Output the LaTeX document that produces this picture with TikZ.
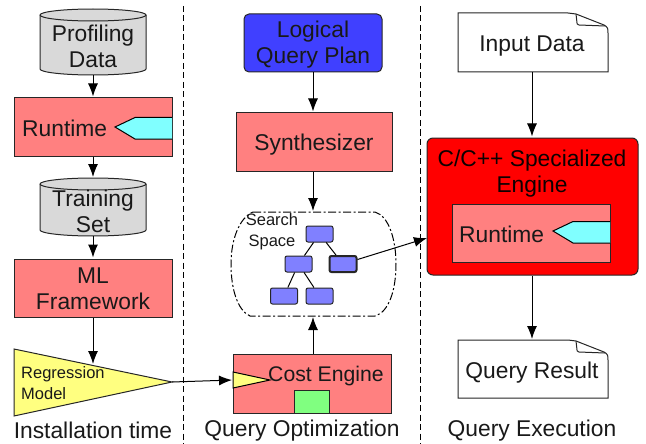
\documentclass[tikz,border=0pt]{standalone}
\usepackage{fontspec}
\setmainfont{Liberation Sans}
\usetikzlibrary{arrows.meta,positioning}
\definecolor{salmon}{HTML}{FF8080}
\definecolor{cylgray}{HTML}{D9D9D9}
\definecolor{cyanf}{HTML}{80FFFF}
\definecolor{bluef}{HTML}{4040FF}
\definecolor{treef}{HTML}{8080FF}
\definecolor{yel}{HTML}{FFFF80}
\definecolor{grn}{HTML}{80FF80}
\tikzset{
  x=1pt,y=-1pt,
  lbl/.style={font=\fontsize{22.8}{26}\selectfont,align=center,inner sep=0pt,text=black!90},
  boxn/.style={draw=black!85,line width=1pt,minimum width=#1,inner sep=0pt},
  flow/.style={draw=black,line width=1pt,-{Latex[length=13pt,width=10pt]},shorten >=1pt},
  tree/.style={draw=black!85,fill=treef,rounded corners=2pt,line width=1pt,minimum width=27pt,minimum height=16pt,inner sep=0pt},
  treeline/.style={draw=black,line width=1pt},
  sep/.style={draw=black,line width=1pt,dash pattern=on 6pt off 3.5pt},
}
\newcommand{\cyl}[4]{% x1,x2,y1,y2
  \fill[cylgray] (#1,#3+6) arc[x radius={(#2-#1)/2},y radius=6,start angle=180,end angle=360] -- (#2,#4-6) arc[x radius={(#2-#1)/2},y radius=6,start angle=0,end angle=180] -- cycle;
  \draw[black!85,line width=1pt] (#1,#3+6) arc[x radius={(#2-#1)/2},y radius=6,start angle=180,end angle=-180];
  \draw[black!85,line width=1pt] (#1,#3+6) -- (#1,#4-6) arc[x radius={(#2-#1)/2},y radius=6,start angle=180,end angle=0] -- (#2,#3+6);
}
\newcommand{\docu}[4]{% x1,x2,y1,y2
  \draw[black!85,fill=white,line width=1pt] (#1,#3) -- (#2-40,#3) .. controls (#2-36,#3) .. (#2-32,#3+1) -- (#2-4,#3+12) .. controls (#2,#3+14) and (#2,#3+16) .. (#2,#3+20) -- (#2,#4) -- (#1,#4) -- cycle;
  \draw[black!85,line width=1pt] (#2-32,#3+1) -- (#2-31,#3+10) .. controls (#2-31,#3+11) .. (#2-29,#3+12) -- (#2-3,#3+13);
}
\newcommand{\tagshape}[3]{% tipx, midy, rightx
  \draw[black,fill=cyanf,line width=1pt] (#3,#2-9.5) -- (#1+20,#2-9.5) -- (#1,#2) -- (#1+20,#2+12) -- (#3,#2+12);
}
\begin{document}
\begin{tikzpicture}
\useasboundingbox (0,0) rectangle (646,444);
% separators
\coordinate (s1a) at (183,6); \coordinate (s1b) at (183,444);
\coordinate (s2a) at (420,6); \coordinate (s2b) at (420,444);
\draw[sep] (s1a) -- (s1b);
\draw[sep] (s2a) -- (s2b);
% left column
\cyl{40}{146}{9}{75}
\node[lbl] (pd) at (93,46) {Profiling\\Data};
\node[boxn=158pt,fill=salmon,minimum height=58pt] (rt) at (93,127) {};
\tagshape{115}{127}{172}
\node[lbl,anchor=west] (rtl) at (22,128) {Runtime};
\cyl{40}{146}{178}{236}
\node[lbl] (ts) at (93,211) {Training\\Set};
\node[boxn=158pt,fill=salmon,minimum height=58pt] (ml) at (93,288) {};
\node[lbl] (mll) at (93,289) {ML\\Framework};
\draw[black!85,fill=yel,line width=1pt] (14,349) -- (172,382) -- (14,416) -- cycle;
\coordinate (rmtop) at (93,365);
\coordinate (rmtip) at (172,382);
\node[font=\fontsize{16.5}{21}\selectfont,align=left,inner sep=0pt,anchor=west,text=black!90] (rml) at (21,383) {Regression\\Model};
\node[lbl] (it) at (93,430) {Installation time};
\coordinate (pdb) at (93,75); \coordinate (tst) at (93,178); \coordinate (tsb) at (93,236);
\draw[flow] (pdb) -- (rt.north);
\draw[flow] (rt.south) -- (tst);
\draw[flow] (tsb) -- (ml.north);
\draw[flow] (ml.south) -- (rmtop);
% middle column
\node[draw=black!85,fill=bluef,rounded corners=5pt,line width=1pt,minimum width=138pt,minimum height=58pt,inner sep=0pt] (lqp) at (313,43) {};
\node[lbl] (lqpl) at (313,45) {Logical\\Query Plan};
\node[boxn=156pt,fill=salmon,minimum height=58pt] (syn) at (314,142) {};
\node[lbl] (synl) at (314,145) {Synthesizer};
\coordinate (sst) at (313,212); \coordinate (ssb) at (313,316);
\draw[black,line width=1pt,dash pattern=on 8pt off 2.5pt on 2pt off 2.5pt] (253,212) -- (375,212) .. controls (389,216) and (396,240) .. (396,264) .. controls (396,290) and (389,312) .. (375,316) -- (250,316) .. controls (237,310) and (231,288) .. (231,264) .. controls (231,240) and (239,218) .. (253,212);
\node[font=\fontsize{16.5}{21}\selectfont,align=center,inner sep=0pt,text=black!90] (ssl) at (272,232) {Search\\Space};
\node[tree] (t1) at (319.5,234) {};
\node[tree] (t2) at (298.5,264) {};
\node[tree,line width=2pt] (t3) at (343,264) {};
\node[tree] (t4) at (284,296) {};
\node[tree] (t5) at (319.5,296) {};
\draw[treeline] (t1) -- (t2);
\draw[treeline] (t1) -- (t3);
\draw[treeline] (t2) -- (t4);
\draw[treeline] (t2) -- (t5);
\node[boxn=158pt,fill=salmon,minimum height=59pt] (ce) at (312,383.5) {};
\node[draw=black!85,fill=grn,line width=1pt,minimum width=35pt,minimum height=23pt,inner sep=0pt] (gr) at (311.5,401.5) {};
\draw[black,fill=yel,line width=1pt] (233,372) -- (270,380) -- (233,388) -- cycle;
\coordinate (mt) at (233,380);
\node[lbl,font=\fontsize{21.2}{26}\selectfont,anchor=west] (cel) at (268,376) {Cost Engine};
\node[lbl] (qo) at (302,431) {Query Optimization};
\draw[flow] (lqp.south) -- (syn.north -| lqp);
\draw[flow] (syn.south -| lqp) -- (sst);
\draw[flow] (ce.north -| lqp) -- (ssb);
\draw[flow] (rmtip) -- (mt);
% right column
\docu{458}{608}{13}{72}
\node[lbl] (id) at (532,46) {Input Data};
\coordinate (idb) at (532,72);
\node[draw=black!85,fill=red,rounded corners=6pt,line width=1pt,minimum width=211pt,minimum height=137pt,inner sep=0pt] (eng) at (532.5,206.5) {};
\node[lbl,text=black!95!red] (engl) at (532,174) {C/C++ Specialized\\Engine};
\node[boxn=158pt,fill=salmon,minimum height=58pt] (rt2) at (531,233) {};
\tagshape{553}{231}{610}
\node[lbl,anchor=west] (rt2l) at (459,234) {Runtime};
\docu{458}{608}{340}{398}
\node[lbl] (qr) at (532,373) {Query Result};
\coordinate (qrt) at (532,340);
\node[lbl] (qe) at (532,431) {Query Execution};
\draw[flow] (idb) -- (eng.north -| idb);
\draw[flow] (eng.south -| qrt) -- (qrt);
\coordinate (engin) at (427,238);
\draw[flow,shorten >=0pt] (t3) -- (engin);
\end{tikzpicture}
\end{document}
